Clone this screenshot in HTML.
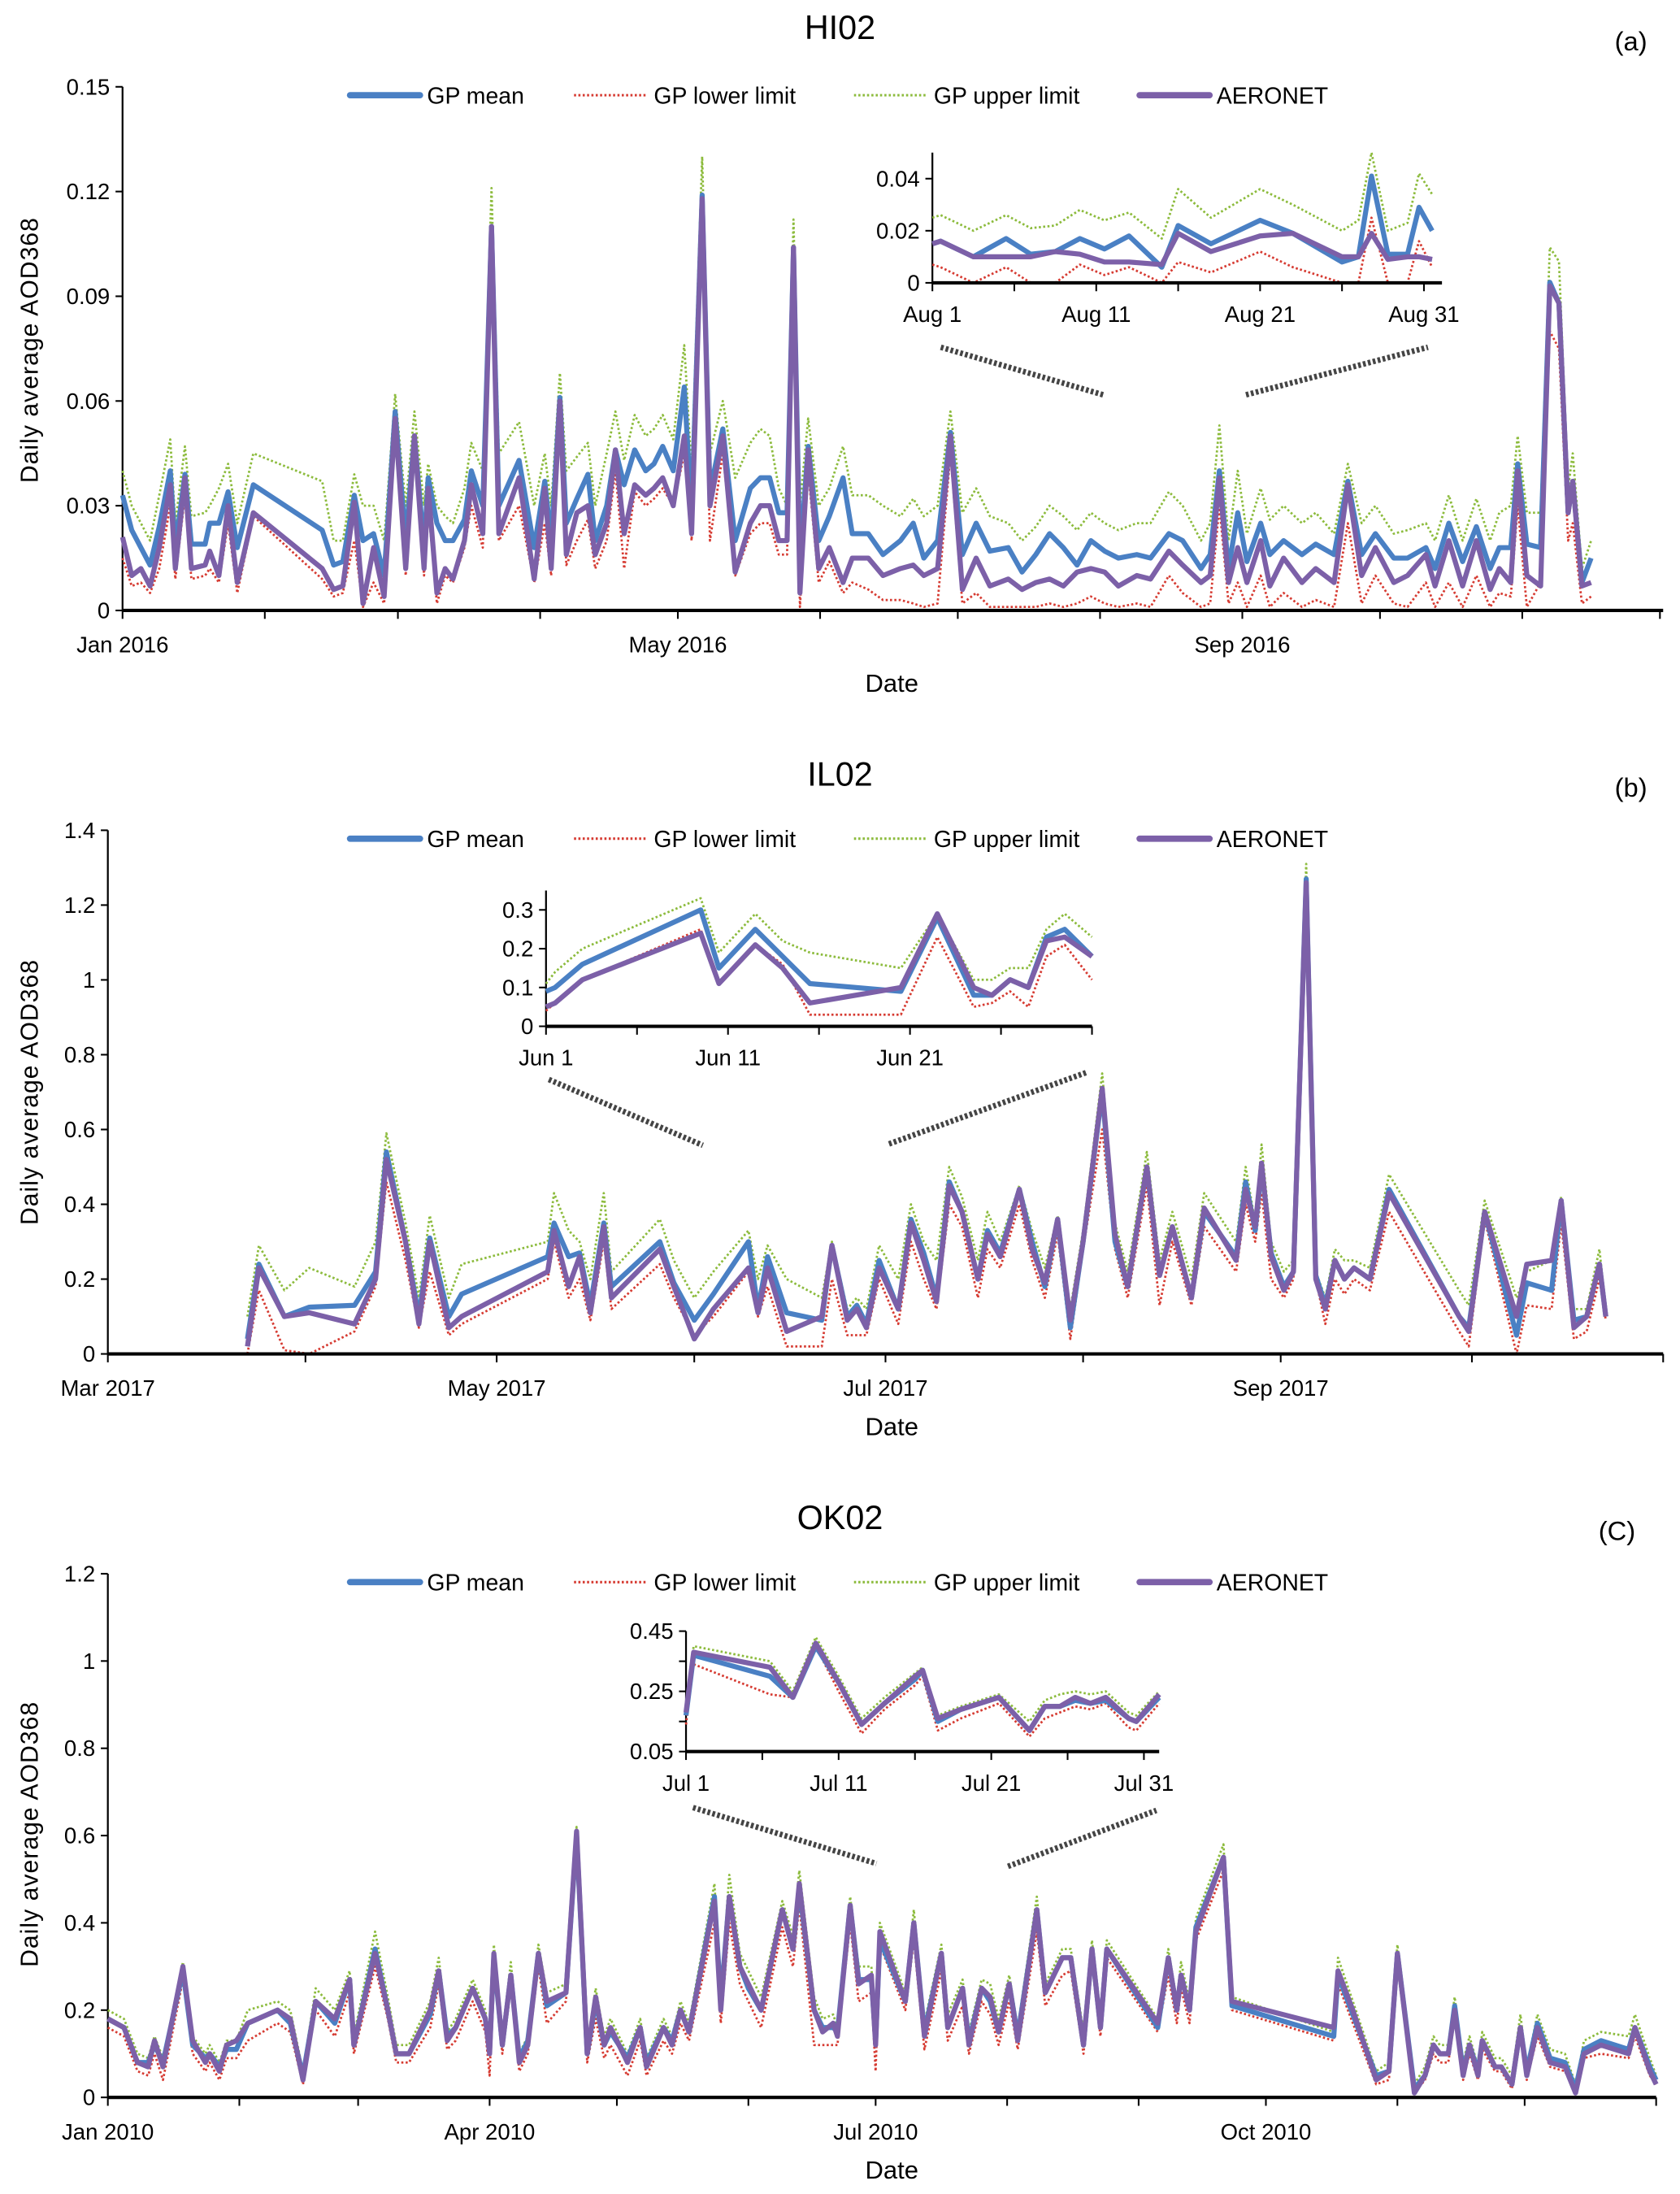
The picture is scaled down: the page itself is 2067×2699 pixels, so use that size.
<!DOCTYPE html>
<html><head><meta charset="utf-8"><title>AOD368 panels</title>
<style>
html,body{margin:0;padding:0;background:#fff;}
svg{display:block;font-family:"Liberation Sans",sans-serif;}
</style></head>
<body>
<svg id="chart" xmlns="http://www.w3.org/2000/svg" width="2067" height="2699" viewBox="0 0 1200 1567"></svg>
<script>
// ---------- Panel (a) HI02 data (day offset from Jan 1 2016) ----------
const aDays=[0,2,4,6,8,10.4,11.5,13.6,15,18,19,21,23,25,28.5,43.5,46,48,50.5,52.4,54.7,57,59.4,61.7,63.6,65.7,66.6,68.5,70.3,72,74.5,76,78.5,80.4,82,86.4,89.7,92,93.4,95.3,96.7,99,101.4,103,105.5,107.4,109.3,111.6,114,115.8,117.7,120,122.4,124,126.3,128,130.8,133.5,136.8,139,141,143,144.8,146.2,147.6,149.4,151.7,154,157,159,162.5,165.7,169.5,172.3,174.6,177.6,180.4,183,186,189,193,196,199,202,205,208,211,214,217,221,224,228,231,235,237,239,241,243,245,248,250,253,257,260,264,267,270,273,277,280,284,286,289,292,295,298,300,302.5,304,306,309,311,313,315,316,318,320];
const aAer=[.021,.010,.012,.007,.018,.036,.012,.038,.012,.013,.017,.010,.030,.008,.028,.012,.006,.007,.031,.002,.018,.004,.055,.012,.050,.012,.035,.005,.012,.009,.020,.036,.022,.110,.022,.038,.009,.035,.012,.060,.016,.028,.030,.016,.025,.046,.022,.036,.033,.035,.038,.030,.050,.022,.118,.030,.050,.011,.025,.030,.030,.020,.020,.104,.005,.046,.012,.018,.008,.015,.015,.010,.012,.013,.010,.012,.050,.006,.015,.007,.009,.006,.008,.009,.007,.011,.012,.011,.007,.010,.009,.017,.013,.008,.010,.038,.008,.018,.008,.020,.007,.015,.008,.012,.008,.036,.010,.018,.008,.010,.016,.007,.020,.007,.020,.006,.012,.008,.040,.010,.007,.093,.088,.028,.037,.007,.008];
const aMean=[.033,.023,.018,.013,.024,.040,.018,.039,.019,.019,.025,.025,.034,.018,.036,.023,.013,.014,.033,.020,.022,.010,.057,.020,.050,.018,.038,.025,.020,.020,.026,.040,.030,.110,.030,.043,.018,.037,.020,.061,.025,.032,.039,.020,.030,.046,.036,.046,.040,.042,.047,.040,.064,.028,.119,.034,.052,.020,.035,.038,.038,.028,.028,.104,.015,.047,.020,.027,.038,.022,.022,.016,.020,.025,.015,.020,.051,.016,.025,.017,.018,.011,.016,.022,.018,.013,.020,.017,.015,.016,.015,.022,.020,.012,.016,.040,.012,.028,.014,.025,.016,.020,.016,.019,.016,.037,.016,.022,.015,.015,.018,.012,.025,.014,.024,.012,.018,.018,.042,.019,.018,.094,.088,.028,.037,.008,.015];
const aLow=[.015,.007,.008,.005,.012,.030,.009,.033,.009,.010,.012,.008,.025,.005,.027,.009,.004,.005,.020,.001,.008,.002,.050,.010,.045,.010,.030,.002,.010,.008,.018,.030,.018,.100,.020,.030,.008,.025,.010,.055,.013,.020,.026,.012,.020,.040,.012,.034,.030,.032,.035,.030,.045,.020,.110,.020,.045,.010,.022,.025,.025,.016,.016,.100,.001,.040,.008,.014,.005,.008,.006,.003,.003,.002,.001,.002,.045,.002,.005,.001,.001,.001,.001,.002,.001,.002,.004,.002,.001,.002,.001,.010,.005,.001,.002,.030,.002,.008,.001,.010,.001,.005,.001,.003,.001,.025,.002,.010,.002,.001,.008,.001,.008,.001,.010,.001,.005,.004,.030,.001,.008,.080,.075,.020,.025,.002,.004];
const aUp=[.040,.030,.025,.020,.033,.049,.025,.047,.027,.028,.030,.035,.042,.025,.045,.037,.020,.020,.039,.030,.030,.020,.062,.030,.057,.030,.042,.030,.027,.025,.035,.048,.040,.121,.045,.054,.030,.045,.030,.068,.040,.044,.048,.030,.045,.057,.043,.056,.050,.052,.056,.049,.076,.040,.130,.045,.060,.038,.048,.052,.050,.035,.030,.112,.030,.055,.030,.035,.047,.033,.033,.030,.027,.032,.027,.030,.057,.028,.035,.027,.025,.020,.024,.030,.027,.023,.028,.025,.023,.025,.025,.034,.030,.020,.025,.053,.020,.040,.022,.035,.026,.030,.025,.028,.022,.042,.025,.030,.022,.023,.025,.020,.033,.020,.032,.020,.028,.030,.050,.028,.028,.104,.100,.035,.045,.012,.020];
// inset (a) Aug 2016, day offset from Aug 1
const aiDays=[0,0.5,2.5,4.5,6,7.5,9,10.5,12,14,15,17,20,22,25,26,26.8,27.8,29,29.7,30.5];
const aiAer=[.015,.016,.010,.010,.010,.012,.011,.008,.008,.007,.019,.012,.018,.019,.010,.010,.019,.009,.010,.010,.009];
const aiMean=[.015,.016,.010,.017,.011,.012,.017,.013,.018,.006,.022,.015,.024,.019,.008,.010,.041,.011,.011,.029,.020];
const aiLow=[.007,.006,0,.006,0,0,.007,.003,.006,0,.008,.004,.012,.006,0,0,.025,0,0,.016,.006];
const aiUp=[.025,.026,.020,.026,.021,.022,.028,.024,.027,.017,.036,.025,.036,.030,.020,.024,.050,.020,.023,.042,.034];

// ---------- Panel (b) IL02 data (day offset from Mar 1 2017) ----------
const bDays=[21.9,23.7,27.7,31.6,38.7,42,43.7,46.7,48.8,50.5,53.5,55.5,69,70,72.3,74,75.7,77.8,79,86.6,88.8,92,95,100.5,102,103.5,106.5,112,113.6,116,117.5,119,121,124,126,128,130,132,134,136.5,138,140,143,145,147,149,151,153,156,158,160,163,165,167,170,172,177,178.5,180,181,182.5,184.5,186,188,189.5,191,192.5,194,195.5,198,201,212,213.5,216,221,222.6,226.5,228,230,232,234,235];
const bAer=[.02,.23,.10,.11,.08,.20,.52,.30,.08,.30,.07,.10,.22,.33,.18,.26,.11,.34,.15,.28,.18,.04,.12,.23,.11,.23,.06,.10,.29,.09,.12,.07,.23,.12,.35,.25,.14,.45,.38,.20,.32,.26,.44,.28,.19,.36,.09,.30,.71,.32,.18,.50,.21,.34,.15,.39,.25,.44,.34,.51,.26,.17,.22,1.26,.20,.12,.25,.20,.23,.20,.43,.10,.06,.38,.10,.24,.25,.41,.07,.10,.24,.10];
const bMean=[.04,.24,.10,.125,.13,.22,.54,.30,.10,.31,.10,.16,.26,.35,.26,.27,.13,.35,.18,.30,.19,.09,.16,.30,.12,.26,.11,.09,.29,.10,.13,.08,.25,.12,.36,.27,.15,.46,.38,.20,.33,.27,.44,.30,.18,.36,.07,.30,.70,.30,.18,.50,.21,.34,.15,.38,.26,.46,.33,.50,.27,.18,.22,1.27,.21,.13,.25,.20,.23,.20,.44,.10,.07,.38,.05,.19,.17,.41,.09,.10,.24,.10];
const bLow=[0,.17,.01,0,.06,.18,.46,.25,.07,.22,.05,.08,.20,.30,.15,.20,.09,.30,.12,.24,.15,.05,.10,.22,.10,.18,.02,.02,.20,.05,.05,.05,.20,.08,.30,.20,.12,.40,.34,.15,.28,.23,.40,.25,.15,.32,.04,.28,.60,.28,.15,.45,.13,.30,.13,.34,.22,.40,.30,.43,.20,.15,.20,1.22,.20,.08,.20,.16,.20,.17,.38,.06,.02,.36,0,.13,.12,.35,.04,.06,.20,.09];
const bUp=[.10,.29,.17,.23,.18,.30,.59,.35,.15,.37,.15,.24,.30,.43,.33,.30,.20,.43,.22,.36,.25,.15,.22,.33,.20,.29,.20,.15,.30,.12,.15,.12,.29,.20,.40,.30,.25,.50,.42,.25,.38,.30,.45,.33,.23,.37,.12,.33,.75,.35,.22,.54,.25,.38,.20,.43,.30,.50,.35,.56,.30,.22,.25,1.31,.22,.15,.28,.25,.25,.23,.48,.17,.13,.41,.15,.22,.25,.42,.12,.12,.28,.12];
// inset (b) Jun 2017, day offset from Jun 1
const biDays=[0,0.5,2,8.5,9.5,11.5,13,14.5,19.5,21.5,23.5,24.5,25.5,26.5,27.5,28.5,30];
const biAer=[.05,.06,.12,.24,.11,.21,.15,.06,.10,.29,.10,.08,.12,.10,.22,.23,.18];
const biMean=[.09,.10,.16,.30,.15,.25,.18,.11,.09,.28,.08,.08,.12,.10,.23,.25,.18];
const biLow=[.04,.06,.12,.25,.11,.21,.16,.03,.03,.23,.05,.06,.09,.05,.18,.21,.12];
const biUp=[.11,.14,.20,.33,.19,.29,.22,.19,.15,.29,.12,.12,.15,.15,.25,.29,.23];

// ---------- Panel (c) OK02 data (day offset from Jan 1 2010) ----------
const cDays=[0,3.8,7,9.5,11,13,17.7,20,23,24,26.3,28,30.3,33,40,43,46,49,53.5,57,58,63,66,68,71,76,78,80,82,86,89,90,91,93,95,97,99,101.5,103.5,108,110.5,113,115,117,118.5,122.5,125.5,127,131,133,135,137,143,144.5,146.5,149,151,154,159,161.5,163,166.5,168.5,171,172,175,177,180,181,182,188,190,192.5,196.5,198,201.5,203,206,208,210,212.5,214.5,219,221,225,227,230,232,234,235.5,247.5,250,252,253,255,256.5,263,265,289,290,293.5,299,302,304,308,310.5,312.5,314,316,317.5,319.5,321,323,324,327,328.5,331,333,334.5,337,340,343.5,346,348,352,358.5,360,363.5,365];
const cAer=[.18,.16,.08,.07,.13,.07,.30,.13,.08,.10,.06,.12,.13,.17,.20,.18,.04,.22,.18,.27,.12,.33,.20,.10,.10,.20,.29,.13,.16,.25,.18,.10,.33,.12,.28,.08,.12,.33,.22,.24,.61,.10,.23,.12,.16,.08,.16,.07,.16,.12,.20,.15,.45,.20,.46,.30,.26,.20,.43,.34,.49,.20,.15,.17,.14,.44,.26,.28,.12,.38,.22,.40,.14,.33,.16,.25,.12,.25,.23,.15,.26,.13,.43,.24,.32,.32,.12,.34,.16,.34,.17,.32,.20,.28,.20,.38,.55,.22,.16,.29,.20,.04,.06,.33,.01,.05,.12,.10,.10,.20,.05,.12,.05,.13,.07,.07,.03,.16,.05,.16,.08,.07,.01,.10,.12,.10,.16,.06,.03];
const cMean=[.18,.16,.08,.08,.12,.08,.29,.12,.09,.10,.07,.11,.11,.17,.20,.17,.05,.22,.17,.27,.12,.34,.20,.10,.10,.19,.29,.14,.16,.25,.18,.11,.32,.12,.28,.09,.13,.33,.21,.24,.60,.10,.22,.12,.15,.09,.16,.08,.16,.13,.20,.15,.46,.22,.46,.30,.25,.20,.43,.34,.48,.20,.16,.16,.15,.44,.27,.27,.13,.36,.22,.40,.15,.33,.16,.25,.13,.25,.22,.15,.26,.14,.43,.24,.32,.32,.12,.34,.16,.34,.16,.32,.20,.28,.20,.39,.55,.21,.14,.28,.19,.05,.06,.33,.02,.05,.12,.10,.10,.21,.06,.12,.06,.13,.07,.07,.03,.16,.06,.17,.09,.08,.02,.11,.13,.11,.16,.07,.04];
const cLow=[.16,.14,.06,.05,.10,.04,.27,.10,.06,.08,.04,.09,.09,.13,.17,.15,.03,.20,.14,.24,.10,.30,.18,.08,.08,.16,.26,.11,.13,.22,.15,.05,.30,.10,.25,.06,.10,.30,.17,.22,.58,.08,.18,.09,.12,.05,.13,.05,.13,.10,.17,.13,.40,.17,.40,.26,.22,.16,.39,.30,.44,.12,.12,.12,.12,.40,.22,.24,.06,.35,.20,.36,.11,.29,.13,.21,.10,.22,.19,.12,.22,.11,.38,.21,.28,.29,.10,.31,.14,.32,.15,.28,.17,.25,.17,.36,.52,.20,.13,.26,.17,.03,.04,.30,.01,.04,.10,.08,.08,.18,.04,.10,.04,.11,.06,.06,.02,.14,.04,.14,.07,.06,.01,.09,.10,.09,.14,.05,.03];
const cUp=[.20,.18,.10,.09,.14,.09,.31,.14,.10,.12,.08,.13,.13,.20,.22,.20,.06,.25,.20,.29,.14,.38,.23,.12,.12,.22,.32,.15,.18,.27,.20,.13,.35,.14,.31,.10,.14,.35,.24,.26,.62,.12,.25,.14,.18,.10,.18,.09,.18,.14,.22,.17,.49,.24,.51,.33,.29,.23,.45,.37,.52,.23,.18,.19,.16,.46,.30,.30,.15,.40,.24,.43,.17,.35,.19,.27,.15,.27,.26,.18,.28,.16,.46,.26,.34,.34,.15,.36,.18,.36,.18,.34,.22,.31,.22,.41,.58,.23,.15,.32,.22,.06,.08,.35,.03,.07,.14,.12,.12,.23,.08,.14,.07,.15,.09,.09,.05,.19,.07,.19,.11,.10,.03,.13,.15,.14,.19,.09,.05];
// inset (c) Jul 2010, day offset from Jul 1
const ciDays=[0,0.5,5.5,7,8.5,10,11.5,13,15,15.5,16.5,18,20.5,22.5,23.5,24.5,25.5,26.5,27.5,29,29.5,31];
const ciAer=[.18,.38,.33,.23,.41,.28,.14,.21,.30,.32,.16,.19,.23,.12,.20,.20,.23,.21,.23,.16,.15,.24];
const ciMean=[.17,.37,.30,.23,.40,.28,.14,.21,.29,.32,.15,.19,.23,.12,.20,.20,.22,.21,.22,.16,.15,.23];
const ciLow=[.14,.34,.24,.23,.40,.25,.11,.19,.27,.30,.12,.16,.21,.10,.16,.18,.20,.19,.21,.13,.12,.21];
const ciUp=[.19,.40,.35,.25,.43,.30,.16,.23,.31,.33,.17,.20,.24,.15,.22,.24,.25,.24,.25,.18,.17,.25];

// ---------- tick labels ----------
const aYTicks=[0,0.03,0.06,0.09,0.12,0.15];
const aYLabels=["0","0.03","0.06","0.09","0.12","0.15"];
const aXLabels=["Jan 2016","May 2016","Sep 2016"];
const aXLabelDays=[0,121,244];
const aMonthDays=[0,31,60,91,121,152,182,213,244,274,305,335];
const aiYTicks=[0,0.02,0.04];const aiYLabels=["0","0.02","0.04"];
const aiXLabels=["Aug 1","Aug 11","Aug 21","Aug 31"];const aiXLabelDays=[0,10,20,30];
const bYTicks=[0,0.2,0.4,0.6,0.8,1,1.2,1.4];
const bYLabels=["0","0.2","0.4","0.6","0.8","1","1.2","1.4"];
const bXLabels=["Mar 2017","May 2017","Jul 2017","Sep 2017"];
const bXLabelDays=[0,61,122,184];
const bMonthDays=[0,31,61,92,122,153,184,214,244];
const biYTicks=[0,0.1,0.2,0.3];const biYLabels=["0","0.1","0.2","0.3"];
const biXLabels=["Jun 1","Jun 11","Jun 21"];const biXLabelDays=[0,10,20];
const cYTicks=[0,0.2,0.4,0.6,0.8,1,1.2];
const cYLabels=["0","0.2","0.4","0.6","0.8","1","1.2"];
const cXLabels=["Jan 2010","Apr 2010","Jul 2010","Oct 2010"];
const cXLabelDays=[0,90,181,273];
const cMonthDays=[0,31,59,90,120,151,181,212,243,273,304,334,365];
const ciYTicks=[0.05,0.15,0.25,0.35,0.45];const ciYLabels=["0.05","","0.25","","0.45"];
const ciXLabels=["Jul 1","Jul 11","Jul 21","Jul 31"];const ciXLabelDays=[0,10,20,30];

const NS="http://www.w3.org/2000/svg";
const svg=document.getElementById('chart');
const COL={mean:"#4a80c4",low:"#d63b32",up:"#8cbb3c",aer:"#7c60a8"};
function mk(tag,attrs,parent){const e=document.createElementNS(NS,tag);for(const k in attrs)e.setAttribute(k,attrs[k]);(parent||svg).appendChild(e);return e;}
function txt(s,x,y,size,anchor,parent){const t=mk('text',{x:x,y:y,'font-size':size,'text-anchor':anchor||'middle',fill:'#000'},parent);t.textContent=s;return t;}

function drawSeries(g,days,vals,xs,ys,kind,w){
  let d="";days.forEach((dd,i)=>{d+=(i?"L":"M")+xs(dd).toFixed(2)+","+ys(vals[i]).toFixed(2);});
  const p=mk('path',{d:d,fill:'none',stroke:COL[kind],'stroke-width':w,'stroke-linejoin':'round'},g);
  if(kind==='low'||kind==='up'){p.setAttribute('stroke-dasharray','1.5 1.6');}
  return p;
}

function drawPlot(o){
  const g=mk('g',{});
  
  
  const xs=d=>o.x0+(d-o.d0)*(o.x1-o.x0)/(o.d1-o.d0);
  const ys=v=>o.y0+(v-o.v0)*(o.y1-o.y0)/(o.v1-o.v0);
  // y axis
  const ya=mk('line',{x1:o.x0,x2:o.x0,y1:ys(o.v1),y2:ys(o.v0),stroke:'#000','stroke-width':1.3},g);
  
  
  o.yTicks.forEach((v,i)=>{
    mk('line',{x1:o.x0-5,x2:o.x0,y1:ys(v),y2:ys(v),stroke:'#000','stroke-width':1.2},g);
    if(o.yLabels[i]){const t=txt(o.yLabels[i],o.x0-9,ys(v)+5.5,o.fs,'end',g);
      
      }
  });
  // series
  const sg=mk('g',{'clip-path':''},g);
  drawSeries(sg,o.days,o.up,xs,ys,'up',o.dw);
  drawSeries(sg,o.days,o.low,xs,ys,'low',o.dw);
  const m=drawSeries(sg,o.days,o.mean,xs,ys,'mean',o.lw);
  
  
  const a=drawSeries(sg,o.days,o.aer,xs,ys,'aer',o.lw);
  
  
  // x axis
  const xa=mk('line',{x1:o.x0,x2:o.x1,y1:ys(o.v0),y2:ys(o.v0),stroke:'#000','stroke-width':o.axw},g);
  
  
  o.tickDays.forEach(d=>{mk('line',{x1:xs(d),x2:xs(d),y1:ys(o.v0),y2:ys(o.v0)+6,stroke:'#000','stroke-width':1.2},g);});
  o.xLabelDays.forEach((d,i)=>{const t=txt(o.xLabels[i],xs(d),ys(o.v0)+o.xlOff,o.fs,'middle',g);
    
    });
}

function legend(y){
  const g=mk('g',{});
  
  
  const items=[["GP mean","mean",248],["GP lower limit","low",410],["GP upper limit","up",610],["AERONET","aer",812]];
  items.forEach(it=>{
    const e=mk('g',{},g);
    
    
    const dotted=it[1]==='low'||it[1]==='up';
    const l=mk('line',{x1:it[2]+(dotted?0:2),x2:it[2]+52,y1:y,y2:y,stroke:COL[it[1]],'stroke-width':dotted?1.8:4.5,'stroke-linecap':dotted?'butt':'round'},e);
    if(dotted)l.setAttribute('stroke-dasharray','1.5 1.6');
    txt(it[0],it[2]+57,y+6,16.5,'start',e);
  });
}
function dashes(x1,y1,x2,y2){const l=mk('line',{x1:x1,y1:y1,x2:x2,y2:y2,stroke:'#444','stroke-width':4,'stroke-dasharray':'2 1.6'});
  
  }
function header(title,tag,ty,tagx,tagy,ytitleY){
  const t=txt(title,600,ty,24,'middle');
  const p=txt(tag,tagx,tagy,19,'middle');
  const yt=txt("Daily average AOD368",0,0,17.5,'middle');yt.setAttribute('transform','translate(27,'+ytitleY+') rotate(-90)');yt.setAttribute('letter-spacing','0.6');
  
}
function xtitle(y){const t=txt("Date",637,y,18,'middle');}

// ===== Panel a =====
header("HI02","(a)",28,1165,36,250);
legend(68);
drawPlot({name:'hi02-main-plot',x0:87.5,x1:1188,d0:0,d1:335.7,y0:436,y1:62,v0:0,v1:0.15,yTicks:aYTicks,yLabels:aYLabels,
  days:aDays,aer:aAer,mean:aMean,low:aLow,up:aUp,tickDays:aMonthDays,xLabels:aXLabels,xLabelDays:aXLabelDays,fs:16,xlOff:30,lw:3.6,dw:1.6,axw:2.4});
drawPlot({name:'hi02-inset-plot',x0:666,x1:1030,d0:0,d1:31.1,y0:202,y1:109,v0:0,v1:0.05,yTicks:aiYTicks,yLabels:aiYLabels,
  days:aiDays,aer:aiAer,mean:aiMean,low:aiLow,up:aiUp,tickDays:[0,5,10,15,20,25,30],xLabels:aiXLabels,xLabelDays:aiXLabelDays,fs:16,xlOff:28,lw:3.6,dw:1.6,axw:2.4});
dashes(672,248,788,282);dashes(890,282,1020,248);
xtitle(494);

// ===== Panel b =====
header("IL02","(b)",561,1165,569,780);
legend(599);
drawPlot({name:'il02-main-plot',x0:77,x1:1188,d0:0,d1:244,y0:967,y1:593,v0:0,v1:1.4,yTicks:bYTicks,yLabels:bYLabels,
  days:bDays,aer:bAer,mean:bMean,low:bLow,up:bUp,tickDays:bMonthDays,xLabels:bXLabels,xLabelDays:bXLabelDays,fs:16,xlOff:30,lw:3.6,dw:1.6,axw:2.4});
drawPlot({name:'il02-inset-plot',x0:390,x1:780,d0:0,d1:30,y0:733,y1:636,v0:0,v1:0.35,yTicks:biYTicks,yLabels:biYLabels,
  days:biDays,aer:biAer,mean:biMean,low:biLow,up:biUp,tickDays:[0,5,10,15,20,25,30],xLabels:biXLabels,xLabelDays:biXLabelDays,fs:16,xlOff:28,lw:3.6,dw:1.6,axw:2.4});
dashes(392,771,502,818);dashes(635,817,776,766);
xtitle(1025);

// ===== Panel c =====
header("OK02","(C)",1092,1155,1100,1310);
legend(1130);
drawPlot({name:'ok02-main-plot',x0:77,x1:1183,d0:0,d1:365,y0:1498,y1:1124,v0:0,v1:1.2,yTicks:cYTicks,yLabels:cYLabels,
  days:cDays,aer:cAer,mean:cMean,low:cLow,up:cUp,tickDays:cMonthDays,xLabels:cXLabels,xLabelDays:cXLabelDays,fs:16,xlOff:30,lw:3.6,dw:1.6,axw:2.4});
drawPlot({name:'ok02-inset-plot',x0:490,x1:828,d0:0,d1:31,y0:1251,y1:1165,v0:0.05,v1:0.45,yTicks:ciYTicks,yLabels:ciYLabels,
  days:ciDays,aer:ciAer,mean:ciMean,low:ciLow,up:ciUp,tickDays:[0,5,10,15,20,25,30],xLabels:ciXLabels,xLabelDays:ciXLabelDays,fs:16,xlOff:28,lw:3.6,dw:1.6,axw:2.4});
dashes(495,1291,626,1331);dashes(720,1333,826,1293);
xtitle(1556);
</script>
</body></html>
